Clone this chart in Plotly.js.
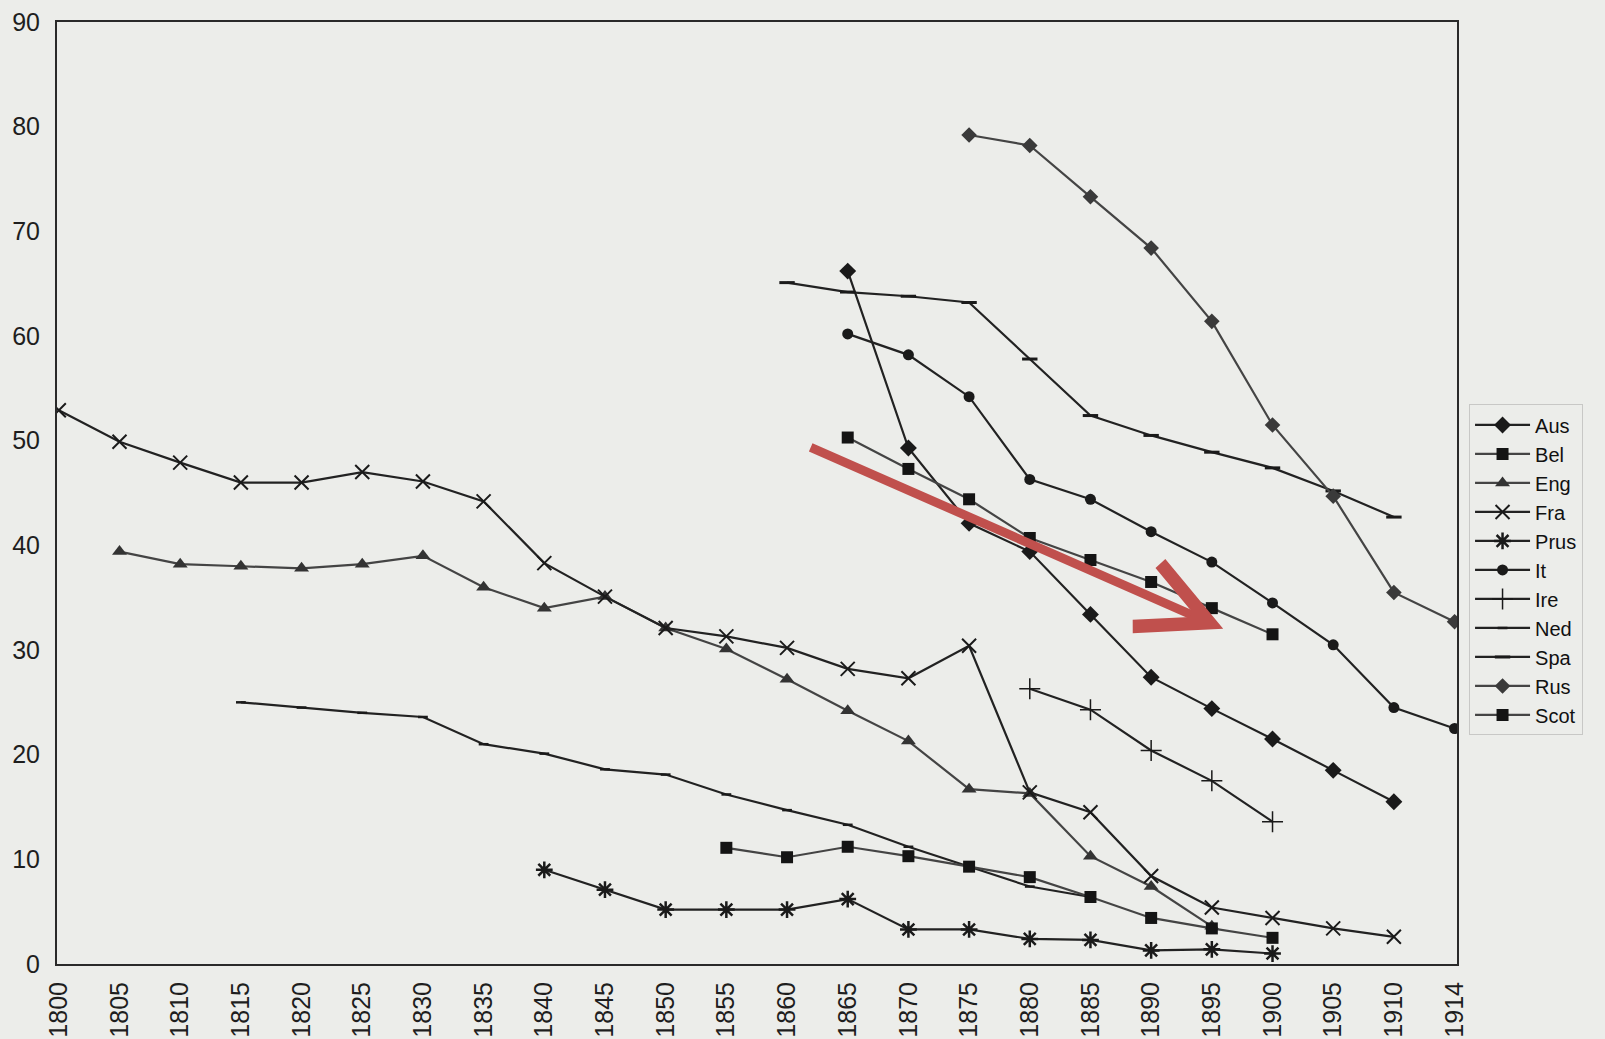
<!DOCTYPE html>
<html>
<head>
<meta charset="utf-8">
<script src="https://cdn.plot.ly/plotly-3.0.1.min.js"></script>
<style>
  html, body { margin: 0; padding: 0; background: #ecedea; }
  #chart { width: 1605px; height: 1039px; }
</style>
</head>
<body>
<div id="chart"></div>
<script>
// Category axis (x tick labels)
const tickYears = ["1800","1805","1810","1815","1820","1825","1830","1835","1840","1845","1850","1855",
                   "1860","1865","1870","1875","1880","1885","1890","1895","1900","1905","1910","1914"];

// Series (years, values)
const ausYears  = ["1865","1870","1875","1880","1885","1890","1895","1900","1905","1910"];
const ausVals   = [66.2, 49.3, 42.1, 39.4, 33.4, 27.4, 24.4, 21.5, 18.5, 15.5];

const belYears  = ["1865","1870","1875","1880","1885","1890","1895","1900"];
const belVals   = [50.3, 47.3, 44.4, 40.7, 38.6, 36.5, 34.0, 31.5];

const engYears  = ["1805","1810","1815","1820","1825","1830","1835","1840","1845","1850","1855","1860",
                   "1865","1870","1875","1880","1885","1890","1895"];
const engVals   = [39.4, 38.2, 38.0, 37.8, 38.2, 39.0, 36.0, 34.0, 35.1, 32.1, 30.1, 27.2,
                   24.2, 21.3, 16.7, 16.3, 10.3, 7.4, 3.6];

const fraYears  = ["1800","1805","1810","1815","1820","1825","1830","1835","1840","1845","1850","1855",
                   "1860","1865","1870","1875","1880","1885","1890","1895","1900","1905","1910"];
const fraVals   = [52.9, 49.9, 47.9, 46.0, 46.0, 47.0, 46.1, 44.2, 38.3, 35.1, 32.1, 31.3,
                   30.2, 28.2, 27.3, 30.4, 16.4, 14.5, 8.4, 5.4, 4.4, 3.4, 2.6];

const prusYears = ["1840","1845","1850","1855","1860","1865","1870","1875","1880","1885","1890","1895","1900"];
const prusVals  = [9.0, 7.1, 5.2, 5.2, 5.2, 6.2, 3.3, 3.3, 2.4, 2.3, 1.3, 1.4, 1.0];

const itYears   = ["1865","1870","1875","1880","1885","1890","1895","1900","1905","1910","1914"];
const itVals    = [60.2, 58.2, 54.2, 46.3, 44.4, 41.3, 38.4, 34.5, 30.5, 24.5, 22.5];

const ireYears  = ["1880","1885","1890","1895","1900"];
const ireVals   = [26.3, 24.3, 20.4, 17.5, 13.6];

const nedYears  = ["1815","1820","1825","1830","1835","1840","1845","1850","1855","1860","1865","1870",
                   "1875","1880","1885"];
const nedVals   = [25.0, 24.5, 24.0, 23.6, 21.0, 20.1, 18.6, 18.1, 16.2, 14.7, 13.3, 11.2,
                   9.3, 7.4, 6.4];

const spaYears  = ["1860","1865","1870","1875","1880","1885","1890","1895","1900","1905","1910"];
const spaVals   = [65.1, 64.2, 63.8, 63.2, 57.8, 52.4, 50.5, 48.9, 47.4, 45.2, 42.7];

const rusYears  = ["1875","1880","1885","1890","1895","1900","1905","1910","1914"];
const rusVals   = [79.2, 78.2, 73.3, 68.4, 61.4, 51.5, 44.7, 35.5, 32.7];

const scotYears = ["1855","1860","1865","1870","1875","1880","1885","1890","1895","1900"];
const scotVals  = [11.1, 10.2, 11.2, 10.3, 9.3, 8.3, 6.4, 4.4, 3.4, 2.5];

const yTicks = [0, 10, 20, 30, 40, 50, 60, 70, 80, 90];

const dark = "#222222";
const grey = "#444444";

function series(name, xs, ys, symbol, size, lineColor, markerColor, lineWidthMarker) {
  return {
    type: "scatter", mode: "lines+markers", name: name,
    x: xs, y: ys,
    line: { color: lineColor, width: 2.2 },
    marker: { symbol: symbol, size: size, color: markerColor,
              line: { color: markerColor, width: lineWidthMarker || 0 } }
  };
}

const traces = [
  series("Aus",  ausYears,  ausVals,  "diamond",          13, dark, "#1a1a1a"),
  series("Bel",  belYears,  belVals,  "square",           12, grey, "#141414"),
  series("Eng",  engYears,  engVals,  "triangle-up",      13, grey, "#333333"),
  series("Fra",  fraYears,  fraVals,  "x-thin-open",      14, dark, "#1a1a1a", 2),
  series("Prus", prusYears, prusVals, "asterisk-open",    14, dark, "#1a1a1a", 2.5),
  series("It",   itYears,   itVals,   "circle",           11, dark, "#1a1a1a"),
  series("Ire",  ireYears,  ireVals,  "cross-thin-open",  15, dark, "#1a1a1a", 1.5),
  series("Ned",  nedYears,  nedVals,  "line-ew-open",      7, dark, "#1a1a1a", 2.5),
  series("Spa",  spaYears,  spaVals,  "line-ew-open",     11, dark, "#1a1a1a", 3),
  series("Rus",  rusYears,  rusVals,  "diamond",          12, grey, "#3a3a3a"),
  series("Scot", scotYears, scotVals, "square",           12, grey, "#141414")
];

const font = { family: "Liberation Sans, Arial, Helvetica, sans-serif", color: "#1e1e1e" };

const layout = {
  width: 1605, height: 1039,
  paper_bgcolor: "#ecedea",
  plot_bgcolor: "#ecedea",
  margin: { l: 57, r: 148, t: 22, b: 75 },
  font: font,
  showlegend: true,
  xaxis: {
    type: "category",
    categoryorder: "array",
    categoryarray: tickYears,
    tickvals: tickYears,
    ticktext: tickYears,
    range: [-0.03, 23.04],
    tickangle: -90,
    tickfont: { size: 25, color: "#1e1e1e", family: font.family },
    showgrid: false, zeroline: false,
    showline: true, linecolor: "#2a2a2a", linewidth: 2, mirror: true,
    ticks: "", ticklabelstandoff: 6
  },
  yaxis: {
    range: [0, 90],
    tickvals: yTicks,
    tickfont: { size: 25, color: "#1e1e1e", family: font.family },
    showgrid: false, zeroline: false,
    showline: true, linecolor: "#2a2a2a", linewidth: 2, mirror: true,
    ticks: "", ticklabelstandoff: 10
  },
  legend: {
    x: 1.0086, y: 0.594, xanchor: "left", yanchor: "top",
    bgcolor: "rgba(0,0,0,0)",
    bordercolor: "#c8c8c6", borderwidth: 1,
    font: { size: 20, color: "#111111", family: font.family },
    itemwidth: 55,
    tracegroupgap: 0
  },
  annotations: [{
    xref: "paper", yref: "paper",
    x: 0.833, y: 0.356,
    axref: "pixel", ayref: "pixel",
    ax: -414, ay: -182,
    text: "", showarrow: true,
    arrowhead: 5, arrowsize: 1.5, arrowwidth: 9,
    arrowcolor: "#c0504d"
  }]
};

Plotly.newPlot("chart", traces, layout, { displayModeBar: false, staticPlot: true });
</script>
</body>
</html>
